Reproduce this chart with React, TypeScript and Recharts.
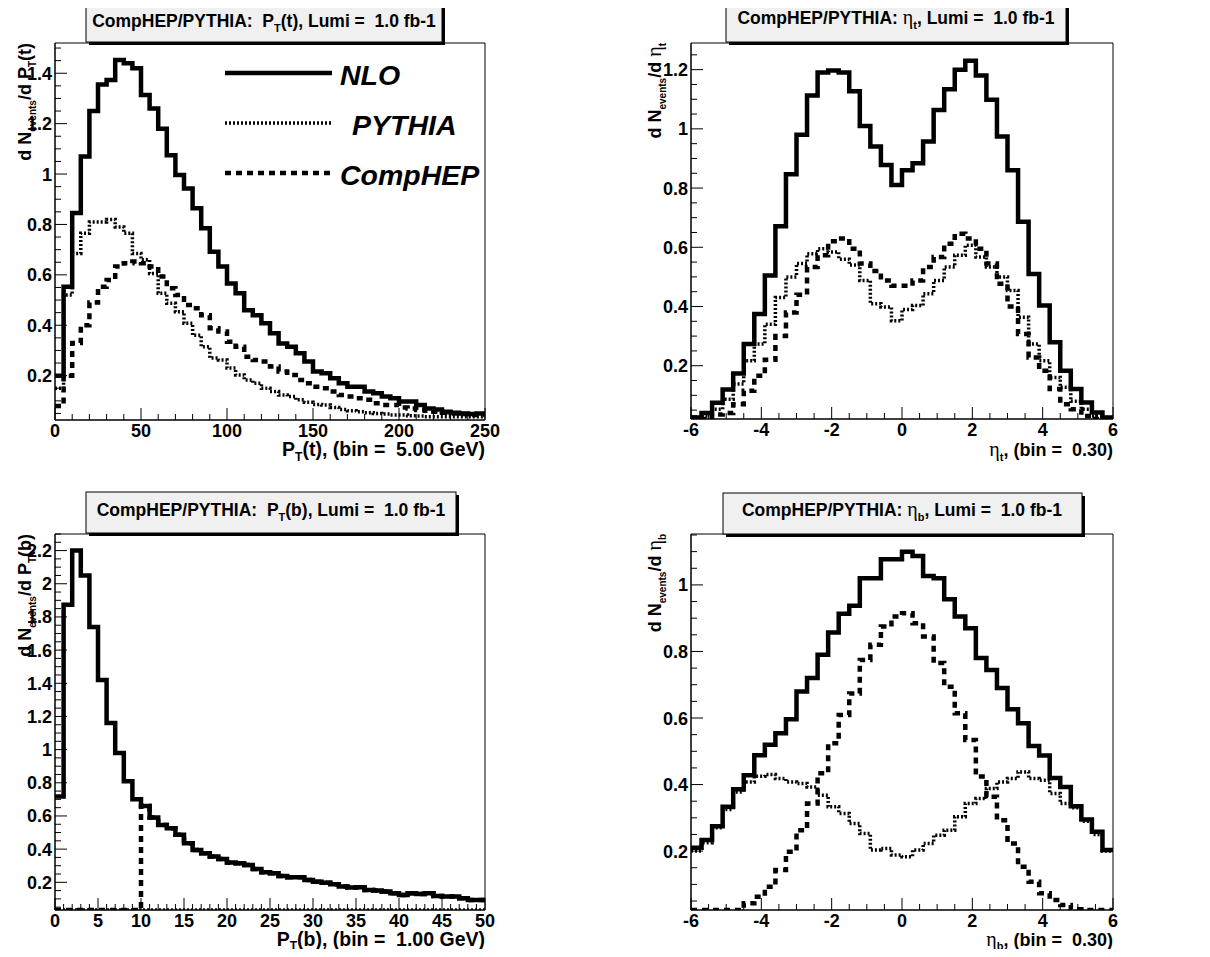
import React from 'react';
import { LineChart, Line, XAxis, YAxis, ReferenceArea } from 'recharts';

const FONT = "'Liberation Sans', Arial, Helvetica, sans-serif";
const GREEK = "'Liberation Serif', 'DejaVu Serif', serif";

// ---------- Panel 1: P_T(t), 50 bins of 5 GeV ----------
const ptTBinLow = 0;
const ptTBinWidth = 5;
const ptTNLO = [0.2, 0.553, 0.845, 1.07, 1.25, 1.355, 1.373, 1.453, 1.44, 1.42, 1.314, 1.26, 1.18, 1.075, 0.996, 0.943, 0.864, 0.785, 0.692, 0.633, 0.566, 0.527, 0.46, 0.44, 0.408, 0.368, 0.328, 0.315, 0.289, 0.256, 0.216, 0.21, 0.19, 0.17, 0.156, 0.156, 0.137, 0.13, 0.117, 0.11, 0.097, 0.097, 0.084, 0.07, 0.066, 0.057, 0.053, 0.05, 0.048, 0.05];
const ptTPYTHIA = [0.15, 0.52, 0.685, 0.765, 0.81, 0.81, 0.82, 0.79, 0.765, 0.685, 0.66, 0.605, 0.527, 0.487, 0.454, 0.408, 0.36, 0.315, 0.27, 0.262, 0.23, 0.203, 0.183, 0.17, 0.15, 0.137, 0.123, 0.117, 0.104, 0.094, 0.086, 0.084, 0.074, 0.066, 0.061, 0.057, 0.053, 0.05, 0.048, 0.044, 0.044, 0.041, 0.04, 0.037, 0.037, 0.037, 0.037, 0.037, 0.037, 0.037];
const ptTCompHEP = [0.08, 0.2, 0.33, 0.4, 0.49, 0.553, 0.58, 0.633, 0.646, 0.653, 0.646, 0.633, 0.593, 0.547, 0.52, 0.48, 0.467, 0.44, 0.388, 0.375, 0.335, 0.315, 0.275, 0.262, 0.256, 0.236, 0.216, 0.203, 0.183, 0.17, 0.156, 0.15, 0.137, 0.123, 0.117, 0.11, 0.104, 0.09, 0.084, 0.084, 0.074, 0.07, 0.064, 0.061, 0.057, 0.053, 0.05, 0.048, 0.044, 0.044];
const ptTXLabels = [0, 50, 100, 150, 200, 250];
const ptTYLabels = [0.2, 0.4, 0.6, 0.8, 1, 1.2, 1.4];

// ---------- Panel 2: eta_t, 40 bins of 0.3 ----------
const etaTBinLow = -6;
const etaTBinWidth = 0.3;
const etaTNLO = [0.025, 0.04, 0.075, 0.12, 0.174, 0.273, 0.375, 0.505, 0.671, 0.847, 0.98, 1.113, 1.19, 1.197, 1.19, 1.127, 1.01, 0.94, 0.878, 0.81, 0.86, 0.884, 0.957, 1.064, 1.134, 1.2, 1.23, 1.18, 1.098, 0.974, 0.86, 0.686, 0.51, 0.403, 0.279, 0.183, 0.121, 0.076, 0.042, 0.025];
const etaTPYTHIA = [0.025, 0.03, 0.053, 0.087, 0.138, 0.217, 0.273, 0.34, 0.43, 0.5, 0.545, 0.578, 0.595, 0.584, 0.56, 0.54, 0.488, 0.409, 0.398, 0.352, 0.39, 0.403, 0.443, 0.488, 0.533, 0.573, 0.607, 0.567, 0.533, 0.5, 0.454, 0.364, 0.273, 0.217, 0.16, 0.127, 0.08, 0.053, 0.03, 0.025];
const etaTCompHEP = [0.025, 0.02, 0.035, 0.04, 0.07, 0.115, 0.166, 0.22, 0.3, 0.38, 0.44, 0.533, 0.573, 0.62, 0.63, 0.595, 0.545, 0.52, 0.488, 0.47, 0.47, 0.488, 0.533, 0.567, 0.612, 0.646, 0.63, 0.595, 0.545, 0.477, 0.4, 0.307, 0.228, 0.183, 0.121, 0.07, 0.053, 0.03, 0.02, 0.02];
const etaXLabels = [-6, -4, -2, 0, 2, 4, 6];
const etaTYLabels = [0.2, 0.4, 0.6, 0.8, 1, 1.2];

// ---------- Panel 3: P_T(b), 50 bins of 1 GeV ----------
const ptBBinLow = 0;
const ptBBinWidth = 1;
const ptBNLO = [0.717, 1.874, 2.2, 2.05, 1.74, 1.42, 1.16, 0.98, 0.81, 0.7, 0.66, 0.59, 0.546, 0.526, 0.486, 0.435, 0.395, 0.375, 0.355, 0.34, 0.32, 0.315, 0.305, 0.28, 0.26, 0.255, 0.238, 0.23, 0.23, 0.214, 0.204, 0.198, 0.188, 0.174, 0.168, 0.17, 0.154, 0.15, 0.144, 0.134, 0.124, 0.134, 0.13, 0.134, 0.118, 0.114, 0.114, 0.104, 0.094, 0.094];
const ptBPYTHIA = [0, 0, 0, 0, 0, 0, 0, 0, 0, 0, 0, 0, 0, 0, 0, 0, 0, 0, 0, 0, 0, 0, 0, 0, 0, 0, 0, 0, 0, 0, 0, 0, 0, 0, 0, 0, 0, 0, 0, 0, 0, 0, 0, 0, 0, 0, 0, 0, 0, 0];
const ptBCompHEP = [0, 0, 0, 0, 0, 0, 0, 0, 0, 0, 0.66, 0.59, 0.546, 0.526, 0.486, 0.435, 0.395, 0.375, 0.355, 0.34, 0.32, 0.315, 0.305, 0.28, 0.26, 0.255, 0.238, 0.23, 0.23, 0.214, 0.204, 0.198, 0.188, 0.174, 0.168, 0.17, 0.154, 0.15, 0.144, 0.134, 0.124, 0.134, 0.13, 0.134, 0.118, 0.114, 0.114, 0.104, 0.094, 0.094];
const ptBXLabels = [0, 5, 10, 15, 20, 25, 30, 35, 40, 45, 50];
const ptBYLabels = [0.2, 0.4, 0.6, 0.8, 1, 1.2, 1.4, 1.6, 1.8, 2, 2.2];

// ---------- Panel 4: eta_b, 40 bins of 0.3 ----------
const etaBBinLow = -6;
const etaBBinWidth = 0.3;
const etaBNLO = [0.21, 0.233, 0.275, 0.333, 0.386, 0.428, 0.488, 0.52, 0.554, 0.596, 0.68, 0.72, 0.79, 0.857, 0.913, 0.937, 1.02, 1.02, 1.077, 1.077, 1.1, 1.087, 1.027, 1.02, 0.957, 0.905, 0.87, 0.78, 0.744, 0.69, 0.626, 0.584, 0.516, 0.487, 0.42, 0.393, 0.335, 0.295, 0.258, 0.203];
const etaBPYTHIA = [0.2, 0.225, 0.27, 0.325, 0.378, 0.408, 0.425, 0.43, 0.418, 0.408, 0.403, 0.393, 0.368, 0.333, 0.313, 0.283, 0.253, 0.203, 0.208, 0.188, 0.183, 0.203, 0.223, 0.248, 0.263, 0.303, 0.343, 0.358, 0.388, 0.408, 0.418, 0.438, 0.418, 0.413, 0.373, 0.343, 0.33, 0.29, 0.25, 0.2];
const etaBCompHEP = [0.015, 0.015, 0.015, 0.015, 0.022, 0.043, 0.063, 0.093, 0.143, 0.198, 0.263, 0.343, 0.434, 0.524, 0.609, 0.674, 0.774, 0.82, 0.875, 0.905, 0.915, 0.885, 0.845, 0.765, 0.694, 0.614, 0.534, 0.424, 0.363, 0.293, 0.223, 0.153, 0.108, 0.073, 0.053, 0.038, 0.025, 0.018, 0.013, 0.013];
const etaBYLabels = [0.2, 0.4, 0.6, 0.8, 1];

// ---------- helpers ----------
type Row = { [k: string]: number };

function histRows(lo: number, w: number, nlo: number[], pythia: number[], comphep: number[], yMin: number): Row[] {
  const n = nlo.length;
  const rows: Row[] = [];
  for (let i = 0; i <= n; i++) {
    const j = Math.min(i, n - 1);
    rows.push({
      x: +(lo + i * w).toFixed(4),
      nlo: Math.max(nlo[j], yMin),
      pythia: Math.max(pythia[j], yMin),
      comphep: Math.max(comphep[j], yMin),
    });
  }
  return rows;
}

function stepTicks(lo: number, hi: number, step: number): number[] {
  const out: number[] = [];
  const start = Math.ceil(lo / step - 1e-9);
  const end = Math.floor(hi / step + 1e-9);
  for (let i = start; i <= end; i++) out.push(+(i * step).toFixed(4));
  return out;
}

const isIn = (v: number, arr: number[]) => arr.some((m) => Math.abs(m - v) < 1e-6);
const fmt = (v: number) => String(+v.toFixed(2));

type Frame = { l: number; r: number; t: number; b: number };

type PanelProps = {
  left: number;
  top: number;
  width: number;
  height: number;
  frame: Frame;
  xDomain: [number, number];
  yDomain: [number, number];
  xMinorStep: number;
  yMinorStep: number;
  xLabels: number[];
  yLabels: number[];
  data: Row[];
};

const labelStyle: React.CSSProperties = { fontFamily: FONT, fontWeight: 700, fontSize: 18 };

const PY_DASH = '2 2';
const CH_DASH = '6 5';

function Panel(p: PanelProps) {
  const { frame } = p;
  const xTicks = stepTicks(p.xDomain[0], p.xDomain[1], p.xMinorStep);
  const yTicks = stepTicks(p.yDomain[0], p.yDomain[1], p.yMinorStep);

  const xTick = (tp: any) => {
    const v = tp.payload.value as number;
    const cx = tp.x as number;
    const maj = isIn(v, p.xLabels);
    return (
      <g>
        <line x1={cx} x2={cx} y1={frame.b} y2={frame.b - (maj ? 12 : 6)} stroke="#000" strokeWidth={1} />
        {maj && (
          <text x={cx} y={frame.b + 17} textAnchor="middle" fill="#000" style={labelStyle}>
            {fmt(v)}
          </text>
        )}
      </g>
    );
  };
  const yTick = (tp: any) => {
    const v = tp.payload.value as number;
    const cy = tp.y as number;
    const maj = isIn(v, p.yLabels);
    return (
      <g>
        <line x1={frame.l} x2={frame.l + (maj ? 12 : 6)} y1={cy} y2={cy} stroke="#000" strokeWidth={1} />
        {maj && (
          <text x={frame.l - 3} y={cy + 6.5} textAnchor="end" fill="#000" style={labelStyle}>
            {fmt(v)}
          </text>
        )}
      </g>
    );
  };

  return (
    <div style={{ position: 'absolute', left: p.left, top: p.top, width: p.width, height: p.height }}>
      <LineChart
        width={p.width}
        height={p.height}
        data={p.data}
        margin={{ top: frame.t, right: p.width - frame.r, bottom: 0, left: 0 }}
      >
        <XAxis
          type="number"
          dataKey="x"
          domain={p.xDomain}
          ticks={xTicks}
          interval={0}
          height={p.height - frame.b}
          tickLine={false}
          axisLine={{ stroke: '#000', strokeWidth: 1 }}
          tick={xTick}
          allowDataOverflow
        />
        <YAxis
          type="number"
          domain={p.yDomain}
          ticks={yTicks}
          interval={0}
          width={frame.l}
          tickLine={false}
          axisLine={{ stroke: '#000', strokeWidth: 1 }}
          tick={yTick}
          allowDataOverflow
        />
        <ReferenceArea
          x1={p.xDomain[0]}
          x2={p.xDomain[1]}
          y1={p.yDomain[0]}
          y2={p.yDomain[1]}
          fill="none"
          fillOpacity={0}
          stroke="#000"
          strokeWidth={1}
          ifOverflow="visible"
        />
        <Line type="stepAfter" dataKey="pythia" stroke="#000" strokeWidth={3.5} strokeDasharray={PY_DASH} dot={false} isAnimationActive={false} />
        <Line type="stepAfter" dataKey="comphep" stroke="#000" strokeWidth={4.5} strokeDasharray={CH_DASH} dot={false} isAnimationActive={false} />
        <Line type="stepAfter" dataKey="nlo" stroke="#000" strokeWidth={4.5} dot={false} isAnimationActive={false} />
      </LineChart>
    </div>
  );
}

function TitleBox({ x, y, w, h, children }: { x: number; y: number; w: number; h: number; children: React.ReactNode }) {
  return (
    <g>
      <rect x={x + 3} y={y + 3} width={w} height={h} fill="#000" />
      <rect x={x} y={y} width={w} height={h} fill="#f0f0f0" stroke="#000" strokeWidth={1} />
      {children}
    </g>
  );
}

const titleStyle: React.CSSProperties = { fontFamily: FONT, fontWeight: 700, fontSize: 17.5, whiteSpace: 'pre' };
const axisTitleStyle: React.CSSProperties = { fontFamily: FONT, fontWeight: 700, fontSize: 18, whiteSpace: 'pre' };
const xTitleStyle: React.CSSProperties = { fontFamily: FONT, fontWeight: 700, fontSize: 19.5, whiteSpace: 'pre' };
const legendStyle: React.CSSProperties = { fontFamily: FONT, fontWeight: 700, fontStyle: 'italic', fontSize: 28.5 };
const greek: React.CSSProperties = { fontFamily: GREEK, fontWeight: 400, fontSize: 20 };

const p1Y: [number, number] = [0.024, 1.52];
const p2Y: [number, number] = [0.02, 1.29];
const p3Y: [number, number] = [0.033, 2.3];
const p4Y: [number, number] = [0.023, 1.153];

export default function App() {
  const d1 = histRows(ptTBinLow, ptTBinWidth, ptTNLO, ptTPYTHIA, ptTCompHEP, p1Y[0]);
  const d2 = histRows(etaTBinLow, etaTBinWidth, etaTNLO, etaTPYTHIA, etaTCompHEP, p2Y[0]);
  const d3 = histRows(ptBBinLow, ptBBinWidth, ptBNLO, ptBPYTHIA, ptBCompHEP, p3Y[0]);
  const d4 = histRows(etaBBinLow, etaBBinWidth, etaBNLO, etaBPYTHIA, etaBCompHEP, p4Y[0]);

  return (
    <div style={{ position: 'relative', width: 1210, height: 957, margin: -8, background: '#fff', overflow: 'hidden' }}>
      <Panel left={0} top={0} width={600} height={470} frame={{ l: 55, r: 485, t: 43, b: 420 }}
        xDomain={[0, 250]} yDomain={p1Y} xMinorStep={10} yMinorStep={0.05} xLabels={ptTXLabels} yLabels={ptTYLabels} data={d1} />
      <Panel left={600} top={0} width={610} height={470} frame={{ l: 91, r: 513, t: 43, b: 419 }}
        xDomain={[-6, 6]} yDomain={p2Y} xMinorStep={0.5} yMinorStep={0.05} xLabels={etaXLabels} yLabels={etaTYLabels} data={d2} />
      <Panel left={0} top={470} width={600} height={487} frame={{ l: 55, r: 485, t: 64, b: 440 }}
        xDomain={[0, 50]} yDomain={p3Y} xMinorStep={1} yMinorStep={0.05} xLabels={ptBXLabels} yLabels={ptBYLabels} data={d3} />
      <Panel left={600} top={470} width={610} height={487} frame={{ l: 91, r: 513, t: 64, b: 440 }}
        xDomain={[-6, 6]} yDomain={p4Y} xMinorStep={0.5} yMinorStep={0.05} xLabels={etaXLabels} yLabels={etaBYLabels} data={d4} />

      <svg width={1210} height={957} style={{ position: 'absolute', left: 0, top: 0, pointerEvents: 'none' }}>
        {/* Title boxes */}
        <TitleBox x={86} y={3} w={356} h={39}>
          <text x={264} y={27} textAnchor="middle" style={titleStyle}>
            CompHEP/PYTHIA:  P<tspan dy={5} fontSize={11}>T</tspan><tspan dy={-5}>(t), Lumi =  1.0 fb-1</tspan>
          </text>
        </TitleBox>
        <TitleBox x={726} y={-2} w={340} h={44}>
          <text x={896} y={24} textAnchor="middle" style={titleStyle}>
            CompHEP/PYTHIA: <tspan style={greek}>η</tspan><tspan dy={5} fontSize={11}>t</tspan><tspan dy={-5}>, Lumi =  1.0 fb-1</tspan>
          </text>
        </TitleBox>
        <TitleBox x={86} y={492} w={370} h={41}>
          <text x={271} y={516} textAnchor="middle" style={titleStyle}>
            CompHEP/PYTHIA:  P<tspan dy={5} fontSize={11}>T</tspan><tspan dy={-5}>(b), Lumi =  1.0 fb-1</tspan>
          </text>
        </TitleBox>
        <TitleBox x={723} y={493} w={359} h={41}>
          <text x={902} y={516} textAnchor="middle" style={titleStyle}>
            CompHEP/PYTHIA: <tspan style={greek}>η</tspan><tspan dy={5} fontSize={11}>b</tspan><tspan dy={-5}>, Lumi =  1.0 fb-1</tspan>
          </text>
        </TitleBox>

        {/* Y axis titles */}
        <text transform="translate(31,43) rotate(-90)" textAnchor="end" style={axisTitleStyle}>
          d N<tspan dy={5} fontSize={10}>events</tspan><tspan dy={-5}>/d P</tspan><tspan dy={5} fontSize={10}>T</tspan><tspan dy={-5}>(t)</tspan>
        </text>
        <text transform="translate(661,43) rotate(-90)" textAnchor="end" style={axisTitleStyle}>
          d N<tspan dy={5} fontSize={10}>events</tspan><tspan dy={-5}>/d </tspan><tspan style={greek}>η</tspan><tspan dy={5} fontSize={10}>t</tspan>
        </text>
        <text transform="translate(31,534) rotate(-90)" textAnchor="end" style={axisTitleStyle}>
          d N<tspan dy={5} fontSize={10}>events</tspan><tspan dy={-5}>/d P</tspan><tspan dy={5} fontSize={10}>T</tspan><tspan dy={-5}>(b)</tspan>
        </text>
        <text transform="translate(661,534) rotate(-90)" textAnchor="end" style={axisTitleStyle}>
          d N<tspan dy={5} fontSize={10}>events</tspan><tspan dy={-5}>/d </tspan><tspan style={greek}>η</tspan><tspan dy={5} fontSize={10}>b</tspan>
        </text>

        {/* X axis titles */}
        <text x={485} y={456} textAnchor="end" style={xTitleStyle}>
          P<tspan dy={5} fontSize={12}>T</tspan><tspan dy={-5}>(t), (bin =  5.00 GeV)</tspan>
        </text>
        <text x={1113} y={456} textAnchor="end" style={axisTitleStyle}>
          <tspan style={greek}>η</tspan><tspan dy={5} fontSize={11}>t</tspan><tspan dy={-5}>, (bin =  0.30)</tspan>
        </text>
        <text x={485} y={946} textAnchor="end" style={xTitleStyle}>
          P<tspan dy={4} fontSize={12}>T</tspan><tspan dy={-4}>(b), (bin =  1.00 GeV)</tspan>
        </text>
        <text x={1113} y={946} textAnchor="end" style={axisTitleStyle}>
          <tspan style={greek}>η</tspan><tspan dy={4} fontSize={11}>b</tspan><tspan dy={-4}>, (bin =  0.30)</tspan>
        </text>

        {/* Legend (panel 1) */}
        <line x1={225} x2={332} y1={73} y2={73} stroke="#000" strokeWidth={4.5} />
        <text x={340} y={85} style={legendStyle}>NLO</text>
        <line x1={225} x2={332} y1={123} y2={123} stroke="#000" strokeWidth={3.5} strokeDasharray={PY_DASH} />
        <text x={352} y={135} style={legendStyle}>PYTHIA</text>
        <line x1={225} x2={332} y1={173} y2={173} stroke="#000" strokeWidth={4.5} strokeDasharray={CH_DASH} />
        <text x={340} y={185} style={legendStyle}>CompHEP</text>
      </svg>
    </div>
  );
}
